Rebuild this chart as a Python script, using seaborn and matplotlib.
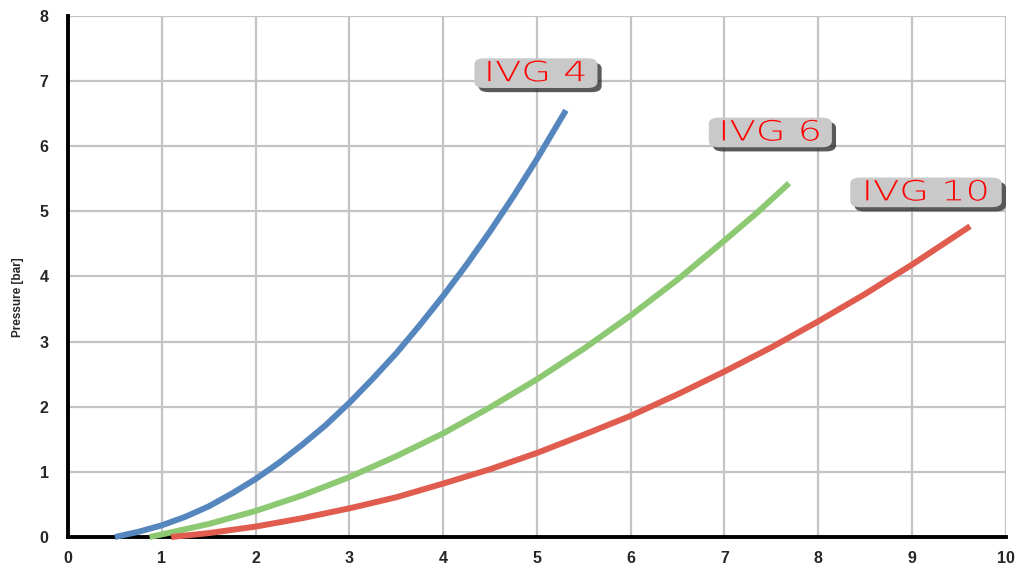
import numpy as np
import pandas as pd
import matplotlib
matplotlib.use("Agg")
import matplotlib.pyplot as plt
import matplotlib.patheffects as pe
from matplotlib.transforms import Affine2D
import seaborn as sns

# values
ivg4_flow = [0.5, 0.75, 1, 1.25, 1.5, 1.75, 2, 2.25, 2.5, 2.75, 3, 3.25, 3.5, 3.75, 4, 4.25, 4.5, 4.75, 5, 5.31]
ivg4_pressure = [0, 0.08, 0.18, 0.31, 0.47, 0.67, 0.89, 1.14, 1.42, 1.72, 2.06, 2.43, 2.82, 3.25, 3.70, 4.18, 4.69, 5.23, 5.80, 6.55]
ivg6_flow = [0.87, 1, 1.5, 2, 2.5, 3, 3.5, 4, 4.5, 5, 5.5, 6, 6.5, 7, 7.35, 7.69]
ivg6_pressure = [0, 0.04, 0.20, 0.40, 0.64, 0.92, 1.24, 1.59, 1.99, 2.42, 2.89, 3.40, 3.95, 4.55, 4.98, 5.43]
ivg10_flow = [1.1, 1.5, 2, 2.5, 3, 3.5, 4, 4.5, 5, 5.5, 6, 6.5, 7, 7.5, 8, 8.5, 9, 9.62]
ivg10_pressure = [0, 0.06, 0.16, 0.29, 0.44, 0.61, 0.82, 1.04, 1.29, 1.57, 1.86, 2.19, 2.54, 2.91, 3.31, 3.73, 4.18, 4.77]

series = ["IVG 4", "IVG 6", "IVG 10"]
colors = ["#5587be", "#8dc873", "#e05c4e"]
label_pos = [(4.99, 7.12), (7.49, 6.21), (9.15, 5.29)]

df = pd.concat([
    pd.DataFrame({"flow": ivg4_flow, "pressure": ivg4_pressure, "model": "IVG 4"}),
    pd.DataFrame({"flow": ivg6_flow, "pressure": ivg6_pressure, "model": "IVG 6"}),
    pd.DataFrame({"flow": ivg10_flow, "pressure": ivg10_pressure, "model": "IVG 10"}),
])


class StretchX(pe.AbstractPathEffect):
    """Stretch a path horizontally about its centre, then hand it on."""

    def __init__(self, sx, inner=None):
        super().__init__()
        self.sx = sx
        self.inner = inner

    def draw_path(self, renderer, gc, tpath, affine, rgbFace=None):
        ext = tpath.get_extents()
        cx = (ext.x0 + ext.x1) / 2
        new = Affine2D().translate(-cx, 0).scale(self.sx, 1).translate(cx, 0) + affine
        if self.inner is None:
            renderer.draw_path(gc, tpath, new, rgbFace)
        else:
            self.inner.draw_path(renderer, gc, tpath, new, rgbFace)


sns.set_style("white")
plt.rcParams["font.family"] = ["Liberation Sans", "DejaVu Sans"]

fig = plt.figure(figsize=(10.17, 5.69), dpi=100)
ax = fig.add_axes([0.0669, 0.0562, 0.922, 0.916])

sns.lineplot(data=df, x="flow", y="pressure", hue="model", hue_order=series,
             palette=colors, linewidth=4.3, legend=False, ax=ax, sort=False,
             solid_capstyle="butt", solid_joinstyle="round", zorder=3)
for line in ax.lines:
    line.set_clip_on(False)

ax.set_xlim(0, 10)
ax.set_ylim(0, 8)
ax.set_xticks(range(0, 11))
ax.set_yticks(range(0, 9))
ax.grid(True, color="#c4c4c4", linewidth=1.6)
ax.set_axisbelow(True)
for s in ["top", "right"]:
    ax.spines[s].set_visible(False)
for s in ["left", "bottom"]:
    ax.spines[s].set_color("black")
    ax.spines[s].set_linewidth(2.8)
    ax.spines[s].set_zorder(2)
ax.tick_params(length=0, labelsize=11.5)
ax.tick_params(axis="y", pad=14)
ax.tick_params(axis="x", pad=10)
for t in ax.get_xticklabels() + ax.get_yticklabels():
    t.set_fontweight("bold")
ax.set_xlabel("")
ax.set_ylabel("Pressure [bar]", fontsize=8.5, fontweight="bold")
ax.yaxis.set_label_coords(-0.047, 0.46)

for name, (lx, ly) in zip(series, label_pos):
    txt = ax.text(lx, ly, name, color="#ff0000", fontsize=20, ha="center", va="center",
                  fontfamily="DejaVu Sans", fontweight="light", zorder=5,
                  path_effects=[StretchX(1.38)],
                  bbox=dict(boxstyle="round,pad=0.03,rounding_size=0.22",
                            facecolor="#c9c9c9", edgecolor="none"))
    txt.get_bbox_patch().set_path_effects([
        StretchX(1.6, pe.SimplePatchShadow(offset=(3, -3), shadow_rgbFace="#222222", alpha=0.75)),
        StretchX(1.6)])

fig.savefig("out.png", dpi=100)
